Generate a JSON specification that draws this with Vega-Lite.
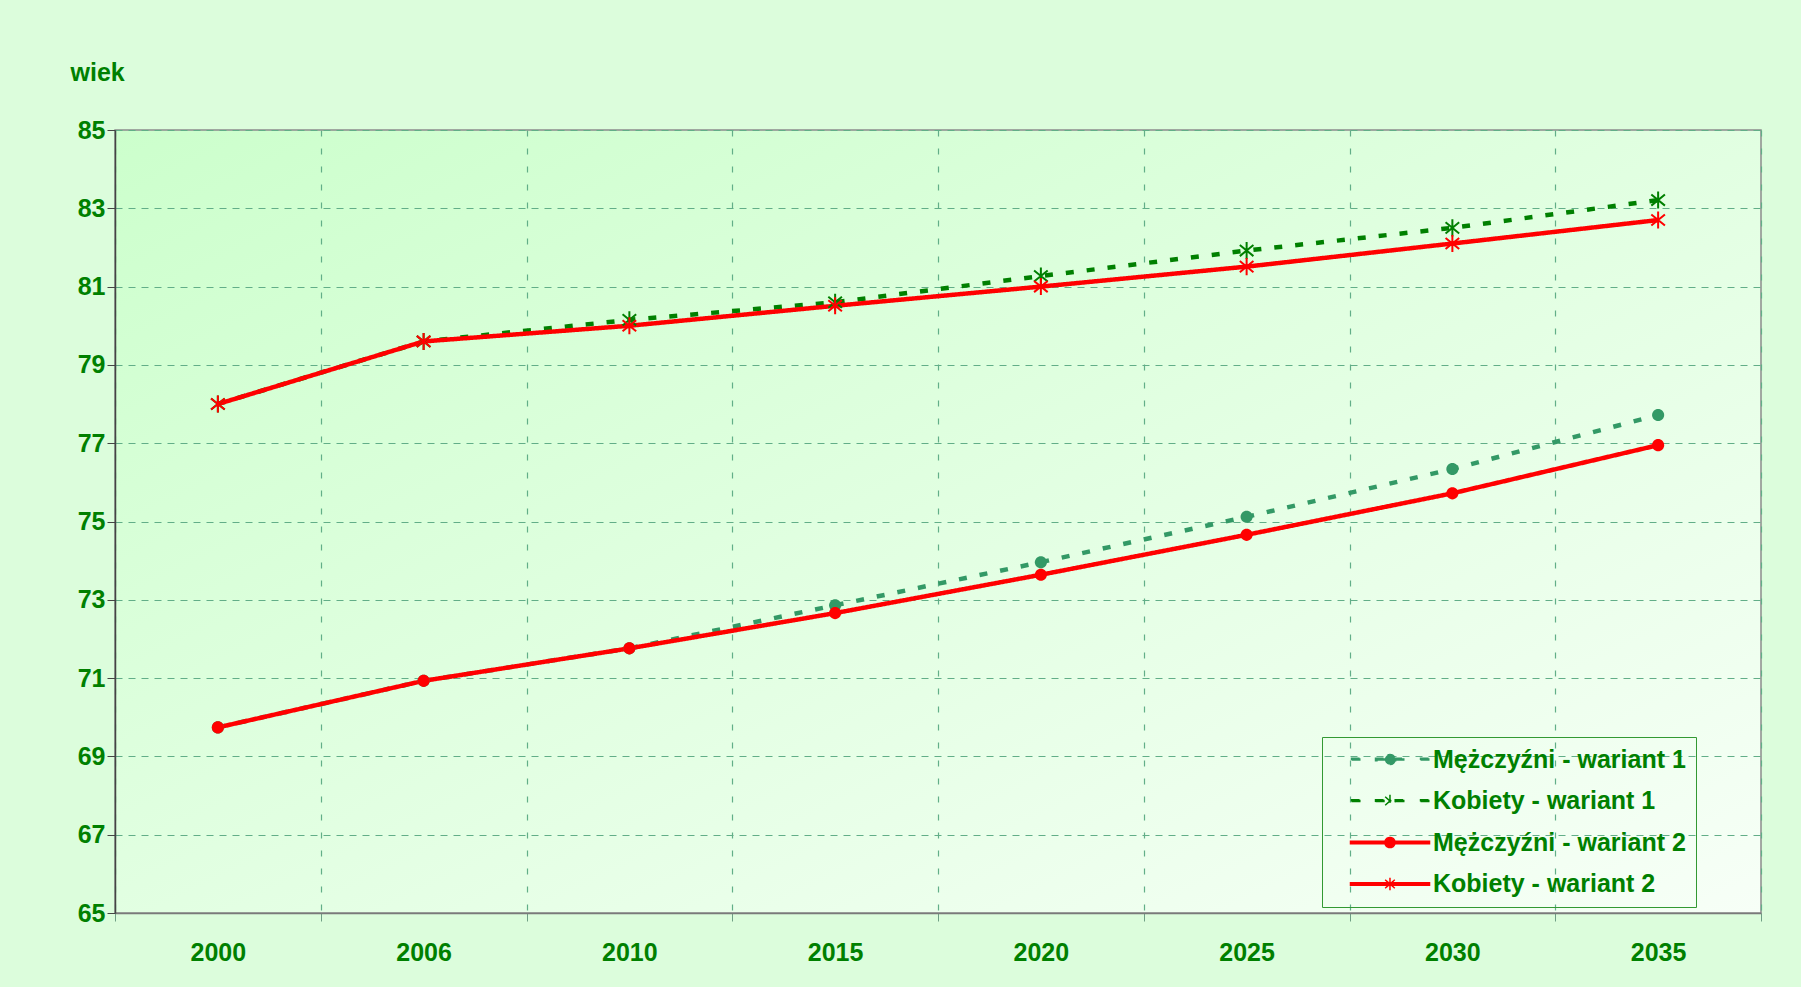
{
  "$schema": "https://vega.github.io/schema/vega-lite/v6.json",
  "width": 1646,
  "height": 783,
  "autosize": {"type": "none"},
  "padding": {"left": 115, "top": 130, "right": 40, "bottom": 74},
  "background": "#dcfddc",
  "config": {
    "font": "Liberation Sans",
    "view": {
      "stroke": "#8c8c8c",
      "strokeWidth": 1.5,
      "fill": {"gradient": "linear", "x1": 0, "y1": 0, "x2": 1, "y2": 1,
        "stops": [{"offset": 0, "color": "#ccffcc"}, {"offset": 1, "color": "#f7fff7"}]}
    },
    "axis": {
      "labelFont": "Liberation Sans",
      "labelFontSize": 25,
      "labelFontWeight": "bold",
      "labelColor": "#008000",
      "gridColor": "#62ae88",
      "gridWidth": 1.2,
      "tickSize": 8
    },
    "legend": {
      "orient": "none",
      "legendX": 1207,
      "legendY": 607,
      "strokeColor": "#339933",
      "padding": 10,
      "labelFont": "Liberation Sans",
      "labelFontSize": 25,
      "labelFontWeight": "bold",
      "labelColor": "#008000",
      "labelLimit": 400,
      "symbolSize": 144,
      "symbolStrokeWidth": 1.5,
      "symbolOpacity": 1,
      "symbolOffset": 6,
      "labelOffset": 70,
      "rowPadding": 15.5
    }
  },
  "data": {
    "values": [
      {"rok": "2000", "seria": "Mężczyźni - wariant 1", "plec": "M", "wiek": 69.74},
      {"rok": "2006", "seria": "Mężczyźni - wariant 1", "plec": "M", "wiek": 70.93},
      {"rok": "2010", "seria": "Mężczyźni - wariant 1", "plec": "M", "wiek": 71.76},
      {"rok": "2015", "seria": "Mężczyźni - wariant 1", "plec": "M", "wiek": 72.86},
      {"rok": "2020", "seria": "Mężczyźni - wariant 1", "plec": "M", "wiek": 73.96},
      {"rok": "2025", "seria": "Mężczyźni - wariant 1", "plec": "M", "wiek": 75.12},
      {"rok": "2030", "seria": "Mężczyźni - wariant 1", "plec": "M", "wiek": 76.34},
      {"rok": "2035", "seria": "Mężczyźni - wariant 1", "plec": "M", "wiek": 77.72},
      {"rok": "2000", "seria": "Kobiety - wariant 1", "plec": "K", "wiek": 78.0},
      {"rok": "2006", "seria": "Kobiety - wariant 1", "plec": "K", "wiek": 79.6},
      {"rok": "2010", "seria": "Kobiety - wariant 1", "plec": "K", "wiek": 80.15},
      {"rok": "2015", "seria": "Kobiety - wariant 1", "plec": "K", "wiek": 80.6},
      {"rok": "2020", "seria": "Kobiety - wariant 1", "plec": "K", "wiek": 81.27},
      {"rok": "2025", "seria": "Kobiety - wariant 1", "plec": "K", "wiek": 81.92},
      {"rok": "2030", "seria": "Kobiety - wariant 1", "plec": "K", "wiek": 82.5},
      {"rok": "2035", "seria": "Kobiety - wariant 1", "plec": "K", "wiek": 83.21},
      {"rok": "2000", "seria": "Mężczyźni - wariant 2", "plec": "M", "wiek": 69.74},
      {"rok": "2006", "seria": "Mężczyźni - wariant 2", "plec": "M", "wiek": 70.93},
      {"rok": "2010", "seria": "Mężczyźni - wariant 2", "plec": "M", "wiek": 71.76},
      {"rok": "2015", "seria": "Mężczyźni - wariant 2", "plec": "M", "wiek": 72.66},
      {"rok": "2020", "seria": "Mężczyźni - wariant 2", "plec": "M", "wiek": 73.64},
      {"rok": "2025", "seria": "Mężczyźni - wariant 2", "plec": "M", "wiek": 74.66},
      {"rok": "2030", "seria": "Mężczyźni - wariant 2", "plec": "M", "wiek": 75.72},
      {"rok": "2035", "seria": "Mężczyźni - wariant 2", "plec": "M", "wiek": 76.95},
      {"rok": "2000", "seria": "Kobiety - wariant 2", "plec": "K", "wiek": 78.0},
      {"rok": "2006", "seria": "Kobiety - wariant 2", "plec": "K", "wiek": 79.6},
      {"rok": "2010", "seria": "Kobiety - wariant 2", "plec": "K", "wiek": 80.0},
      {"rok": "2015", "seria": "Kobiety - wariant 2", "plec": "K", "wiek": 80.51},
      {"rok": "2020", "seria": "Kobiety - wariant 2", "plec": "K", "wiek": 81.0},
      {"rok": "2025", "seria": "Kobiety - wariant 2", "plec": "K", "wiek": 81.51},
      {"rok": "2030", "seria": "Kobiety - wariant 2", "plec": "K", "wiek": 82.1},
      {"rok": "2035", "seria": "Kobiety - wariant 2", "plec": "K", "wiek": 82.7}
    ]
  },
  "encoding": {
    "x": {
      "field": "rok",
      "type": "ordinal",
      "scale": {"type": "band", "paddingInner": 0, "paddingOuter": 0},
      "axis": {
        "title": null,
        "labelAngle": 0,
        "tickBand": "extent",
        "tickColor": "#6f9f85",
        "domainColor": "#7a7a7a",
        "domainWidth": 1.5,
        "labelPadding": 19,
        "grid": true,
        "gridDash": [6, 12]
      }
    },
    "y": {
      "field": "wiek",
      "type": "quantitative",
      "scale": {"domain": [65, 85], "nice": false, "zero": false},
      "axis": {
        "values": [65, 67, 69, 71, 73, 75, 77, 79, 81, 83, 85],
        "title": "wiek",
        "titleAngle": 0,
        "titleX": -45,
        "titleY": -50,
        "titleAlign": "left",
        "titleBaseline": "alphabetic",
        "titleFont": "Liberation Sans",
        "titleFontSize": 25,
        "titleFontWeight": "bold",
        "titleColor": "#008000",
        "tickColor": "#444444",
        "domainColor": "#444444",
        "domainWidth": 1.5,
        "labelPadding": 2,
        "grid": true,
        "gridDash": [7, 6]
      }
    },
    "color": {
      "field": "seria",
      "type": "nominal",
      "scale": {
        "domain": ["Mężczyźni - wariant 1", "Kobiety - wariant 1", "Mężczyźni - wariant 2", "Kobiety - wariant 2"],
        "range": ["#339966", "#008000", "#ff0000", "#ff0000"]
      },
      "legend": {"title": null, "orient": "none", "legendX": 1207, "legendY": 607}
    }
  },
  "layer": [
    {
      "mark": {"type": "point", "filled": true, "size": 144, "strokeWidth": 1.5, "opacity": 0},
      "encoding": {
        "stroke": {
          "field": "seria",
          "type": "nominal",
          "scale": {
            "domain": ["Mężczyźni - wariant 1", "Kobiety - wariant 1", "Mężczyźni - wariant 2", "Kobiety - wariant 2"],
            "range": ["#339966", "#008000", "#ff0000", "#ff0000"]
          },
          "legend": {"title": null, "orient": "none", "legendX": 1207, "legendY": 607}
        },
        "shape": {
          "field": "seria",
          "type": "nominal",
          "scale": {
            "domain": ["Mężczyźni - wariant 1", "Kobiety - wariant 1", "Mężczyźni - wariant 2", "Kobiety - wariant 2"],
            "range": [
              "M0.17,-0.2H1.67V0.2H0.17ZM4.17,-0.2H5.9V0.2H4.17ZM7.25,-0.2H9V0.2H7.25ZM11.67,-0.2H13.17V0.2H11.67ZM7.43,0A0.85,0.85,0,1,1,5.73,0A0.85,0.85,0,1,1,7.43,0Z",
              "M0.17,-0.2H1.67V0.2H0.17ZM4.17,-0.2H5.7V0.2H4.17ZM7.45,-0.2H9V0.2H7.45ZM11.67,-0.2H13.17V0.2H11.67ZM6.58,-1.05V1.05M5.78,-0.7L7.38,0.7M5.78,0.7L7.38,-0.7",
              "M0,-0.2H13.17V0.2H0ZM7.43,0A0.85,0.85,0,1,1,5.73,0A0.85,0.85,0,1,1,7.43,0Z",
              "M0,-0.2H13.17V0.2H0ZM6.58,-1.05V1.05M5.78,-0.7L7.38,0.7M5.78,0.7L7.38,-0.7"
            ]
          },
          "legend": {"title": null, "orient": "none", "legendX": 1207, "legendY": 607}
        }
      }
    },
    {
      "mark": {"type": "line", "strokeWidth": 4.5, "strokeCap": "butt"},
      "encoding": {
        "strokeDash": {
          "field": "seria",
          "type": "nominal",
          "scale": {
            "domain": ["Mężczyźni - wariant 1", "Kobiety - wariant 1", "Mężczyźni - wariant 2", "Kobiety - wariant 2"],
            "range": [[8, 13], [8, 13], [1, 0], [1, 0]]
          },
          "legend": null
        }
      }
    },
    {
      "transform": [{"filter": "datum.plec === 'M'"}],
      "mark": {"type": "point", "filled": true, "size": 230, "strokeWidth": 1.8, "opacity": 1,
        "shape": "M0.8,0A0.8,0.8,0,1,1,-0.8,0A0.8,0.8,0,1,1,0.8,0Z"}
    },
    {
      "transform": [{"filter": "datum.plec === 'K'"}],
      "mark": {"type": "point", "filled": false, "size": 290, "strokeWidth": 2, "opacity": 1,
        "shape": "M0,-1V1M-0.8,-0.65L0.8,0.65M-0.8,0.65L0.8,-0.65"}
    }
  ]
}
